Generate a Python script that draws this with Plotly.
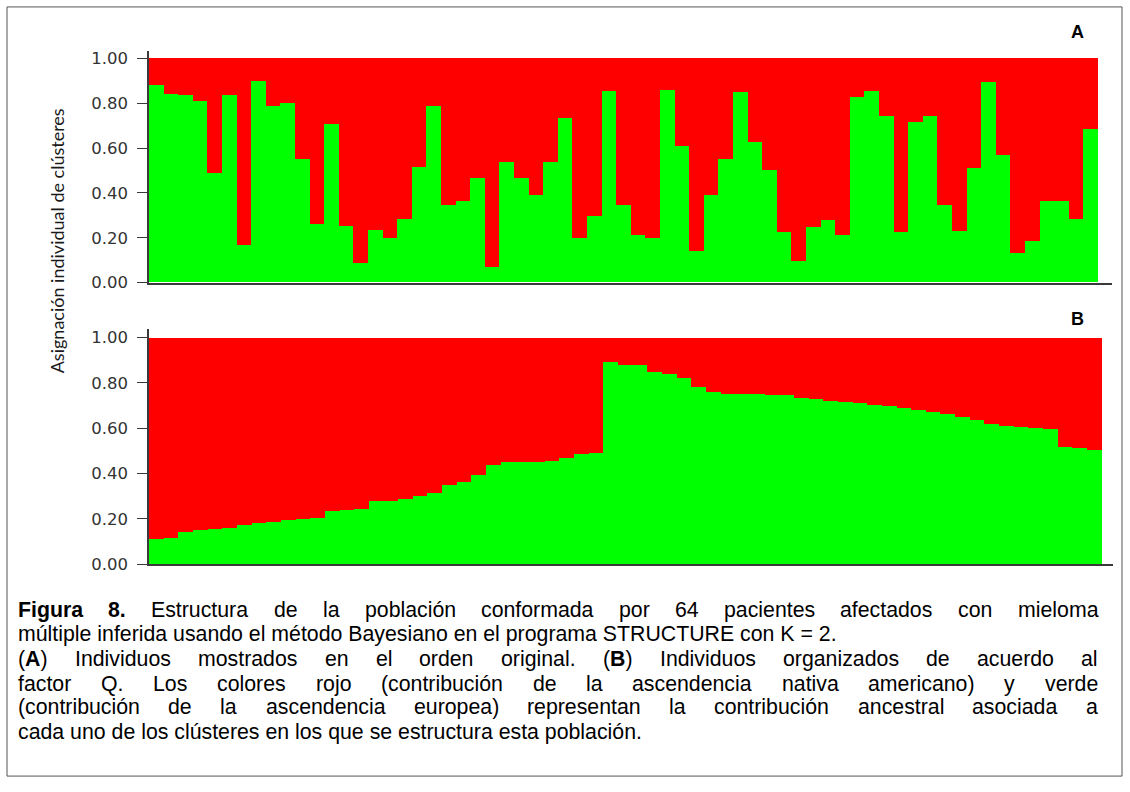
import plotly.graph_objects as go

W, H = 1130, 792

# ---------------- data ----------------
individuals = list(range(1, 66))

# Panel A: green (European) share, original order
a_green = [0.88, 0.84, 0.835, 0.81, 0.49, 0.835, 0.165, 0.90, 0.785, 0.80,
           0.55, 0.26, 0.705, 0.25, 0.085, 0.235, 0.20, 0.285, 0.515, 0.785,
           0.345, 0.365, 0.465, 0.07, 0.535, 0.465, 0.39, 0.535, 0.735, 0.20,
           0.295, 0.855, 0.345, 0.21, 0.20, 0.86, 0.61, 0.14, 0.39, 0.55,
           0.85, 0.625, 0.50, 0.225, 0.095, 0.245, 0.28, 0.21, 0.825, 0.855,
           0.74, 0.225, 0.715, 0.74, 0.345, 0.23, 0.51, 0.895, 0.57, 0.13,
           0.185, 0.365, 0.365, 0.285, 0.685]

# Panel B: green share, individuals organised by Q factor
b_green = [0.113, 0.118, 0.145, 0.15, 0.155, 0.16, 0.175, 0.183, 0.187, 0.195,
           0.20, 0.205, 0.235, 0.24, 0.245, 0.278, 0.28, 0.287, 0.30, 0.315,
           0.35, 0.365, 0.395, 0.44, 0.45, 0.452, 0.453, 0.455, 0.468, 0.487,
           0.49, 0.894, 0.88, 0.878, 0.85, 0.84, 0.822, 0.783, 0.76, 0.752,
           0.75, 0.75, 0.748, 0.745, 0.732, 0.728, 0.722, 0.718, 0.713, 0.705,
           0.698, 0.69, 0.68, 0.672, 0.664, 0.65, 0.635, 0.62, 0.61, 0.607,
           0.603, 0.595, 0.518, 0.515, 0.503]

a_red = [round(1 - g, 3) for g in a_green]
b_red = [round(1 - g, 3) for g in b_green]

tick_vals = [0, 0.2, 0.4, 0.6, 0.8, 1.0]
y_title = "Asignación individual de clústeres"
panel_labels = ["A", "B"]

caption_lines = [
    (["<b>Figura</b>", "<b>8.</b>", "Estructura", "de", "la", "población", "conformada",
      "por", "64", "pacientes", "afectados", "con", "mieloma"], True),
    (["múltiple", "inferida", "usando", "el", "método", "Bayesiano", "en", "el",
      "programa", "STRUCTURE", "con", "K", "=", "2."], False),
    (["(<b>A</b>)", "Individuos", "mostrados", "en", "el", "orden", "original.",
      "(<b>B</b>)", "Individuos", "organizados", "de", "acuerdo", "al"], True),
    (["factor", "Q.", "Los", "colores", "rojo", "(contribución", "de", "la",
      "ascendencia", "nativa", "americano)", "y", "verde"], True),
    (["(contribución", "de", "la", "ascendencia", "europea)", "representan", "la",
      "contribución", "ancestral", "asociada", "a"], True),
    (["cada", "uno", "de", "los", "clústeres", "en", "los", "que", "se",
      "estructura", "esta", "población."], False),
]

GREEN = "#00FF00"
RED = "#FF0000"

# ---------------- helpers ----------------
def px(x):
    return x / W


def py(y):
    return 1 - y / H


REG = {' ': 278, '(': 333, ')': 333, ',': 278, '.': 278, '=': 584,
       'a': 556, 'b': 556, 'c': 500, 'd': 556, 'e': 556, 'f': 278, 'g': 556,
       'h': 556, 'i': 222, 'j': 222, 'k': 500, 'l': 222, 'm': 833, 'n': 556,
       'o': 556, 'p': 556, 'q': 556, 'r': 333, 's': 500, 't': 278, 'u': 556,
       'v': 500, 'w': 722, 'x': 500, 'y': 500, 'z': 500,
       'A': 667, 'B': 667, 'C': 722, 'D': 722, 'E': 667, 'F': 611, 'G': 778,
       'H': 722, 'I': 278, 'J': 500, 'K': 667, 'L': 556, 'M': 833, 'N': 722,
       'O': 778, 'P': 667, 'Q': 778, 'R': 722, 'S': 667, 'T': 611, 'U': 722,
       'V': 667, 'W': 944, 'X': 667, 'Y': 667, 'Z': 611,
       'á': 556, 'é': 556, 'í': 278, 'ó': 556, 'ú': 556, 'ñ': 556}
BOLD = {'F': 611, 'i': 278, 'g': 611, 'u': 611, 'r': 389, 'a': 556,
        'A': 722, 'B': 722, '8': 556, '.': 278}


def word_width(word, fs):
    total = 0
    bold = False
    i = 0
    while i < len(word):
        if word.startswith("<b>", i):
            bold = True
            i += 3
            continue
        if word.startswith("</b>", i):
            bold = False
            i += 4
            continue
        ch = word[i]
        if ch.isdigit():
            w = 556
        elif bold:
            w = BOLD.get(ch, REG.get(ch, 556))
        else:
            w = REG.get(ch, 556)
        total += w
        i += 1
    return total * fs / 1000.0


# ---------------- figure ----------------
fig = go.Figure()
for xa, ya, greens, reds in (("x", "y", a_green, a_red), ("x2", "y2", b_green, b_red)):
    fig.add_trace(go.Bar(x=individuals, y=greens, xaxis=xa, yaxis=ya, width=1,
                         marker=dict(color=GREEN, line=dict(width=0)), hoverinfo="skip"))
    fig.add_trace(go.Bar(x=individuals, y=reds, xaxis=xa, yaxis=ya, width=1,
                         marker=dict(color=RED, line=dict(width=0)), hoverinfo="skip"))

axis_color = "#3a3a3a"
tick_font = dict(family="DejaVu Sans, Verdana, sans-serif", size=16.5, color="#333333")

ycommon = dict(showline=True, linecolor=axis_color, linewidth=1.5, ticks="outside",
               ticklen=10, tickwidth=1.2, tickcolor=axis_color, tickvals=tick_vals,
               tickformat=".2f", tickfont=tick_font, showgrid=False, zeroline=False,
               ticklabelstandoff=6, fixedrange=True)
xcommon = dict(showline=True, linecolor=axis_color, linewidth=2, showgrid=False,
               zeroline=False, showticklabels=False, ticks="", fixedrange=True)

annotations = []
# y-axis title
annotations.append(dict(x=px(57), y=py(243), xref="paper", yref="paper",
                        text=y_title, textangle=-90, showarrow=False,
                        font=dict(family="Lato, Open Sans, sans-serif", size=18, color="#1a1a1a"),
                        xanchor="center", yanchor="middle"))
# panel labels
for lab, ypos in zip(panel_labels, (30, 322)):
    annotations.append(dict(x=px(1077), y=py(ypos), xref="paper", yref="paper",
                            text="<b>%s</b>" % lab, showarrow=False,
                            font=dict(family="Liberation Sans, Arial, sans-serif", size=18, color="#000000"),
                            xanchor="center", yanchor="middle"))

# caption (justified by word placement)
FS = 21.3
LEFT, RIGHT = 18, 1098
line_y = [617, 642, 667, 692, 716, 741]
cap_font = dict(family="Liberation Sans, Arial, sans-serif", size=FS, color="#000000")
for (words, justify), yl in zip(caption_lines, line_y):
    widths = [word_width(w, FS) for w in words]
    if justify and len(words) > 1:
        gap = (RIGHT - LEFT - sum(widths)) / (len(words) - 1)
        xpos = LEFT
        for w, wd in zip(words, widths):
            annotations.append(dict(x=px(xpos), y=py(yl), xref="paper", yref="paper",
                                    text=w, showarrow=False, font=cap_font,
                                    xanchor="left", yanchor="middle",
                                    borderpad=0, borderwidth=0))
            xpos += wd + gap
    else:
        annotations.append(dict(x=px(LEFT), y=py(yl), xref="paper", yref="paper",
                                text=" ".join(words), showarrow=False, font=cap_font,
                                xanchor="left", yanchor="middle",
                                borderpad=0, borderwidth=0))

fig.update_layout(
    width=W, height=H,
    margin=dict(l=0, r=0, t=0, b=0),
    paper_bgcolor="white", plot_bgcolor="white",
    barmode="stack", bargap=0, showlegend=False,
    xaxis=dict(domain=[px(149), px(1112)], range=[0.5, 66.46], anchor="y", **xcommon),
    yaxis=dict(domain=[py(285), py(50)], range=[0, 1.032], anchor="x", **ycommon),
    xaxis2=dict(domain=[px(149), px(1113)], range=[0.5, 66.27], anchor="y2", **xcommon),
    yaxis2=dict(domain=[py(571), py(332)], range=[0, 1.038], anchor="x2", **ycommon),
    annotations=annotations,
    shapes=[dict(type="rect", xref="paper", yref="paper",
                 x0=px(7), x1=px(1122), y0=py(786), y1=py(5),
                 line=dict(color="#555555", width=1), fillcolor="rgba(0,0,0,0)")],
)

fig.write_html("out.html", config={"displayModeBar": False},
               post_script="document.body.style.margin='0';document.body.style.overflow='hidden';")
